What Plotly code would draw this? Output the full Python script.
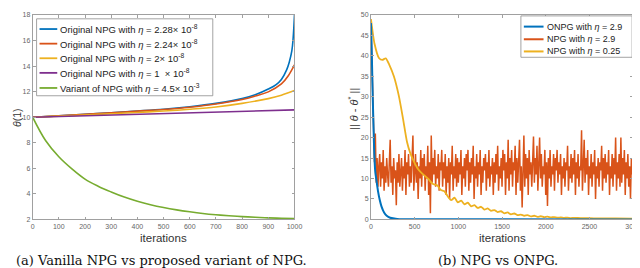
import plotly.graph_objects as go

# ---------- left panel data ----------
blue_x = [0, 100, 200, 300, 400, 500, 600, 700, 800, 850, 900, 930, 950, 970, 980, 990, 995, 1000]
blue_y = [10, 10.1, 10.22, 10.35, 10.48, 10.62, 10.82, 11.08, 11.45, 11.75, 12.2, 12.55, 12.95, 13.7, 14.3, 15.2, 16.2, 18.0]
red_x = [0, 100, 200, 300, 400, 500, 600, 700, 800, 850, 900, 950, 975, 1000]
red_y = [10, 10.1, 10.22, 10.34, 10.47, 10.6, 10.78, 11.03, 11.38, 11.65, 11.98, 12.6, 13.2, 14.1]
yel_x = [0, 100, 200, 300, 400, 500, 600, 700, 800, 900, 950, 1000]
yel_y = [10, 10.08, 10.17, 10.27, 10.37, 10.48, 10.62, 10.8, 11.08, 11.45, 11.72, 12.08]
pur_x = [0, 500, 1000]
pur_y = [10, 10.28, 10.57]
grn_x = [0, 50, 100, 150, 200, 250, 300, 350, 400, 450, 500, 550, 600, 650, 700, 750, 800, 850, 900, 950, 1000]
grn_y = [10, 8.15, 6.9, 5.95, 5.15, 4.6, 4.15, 3.75, 3.42, 3.15, 2.93, 2.75, 2.6, 2.47, 2.37, 2.29, 2.22, 2.17, 2.12, 2.09, 2.06]

left_names = [
    "Original NPG with <i>η</i> = 2.28× 10<sup>-8</sup>",
    "Original NPG with <i>η</i> = 2.24× 10<sup>-8</sup>",
    "Original NPG with <i>η</i> = 2× 10<sup>-8</sup>",
    "Original NPG with <i>η</i> = 1  × 10<sup>-8</sup>",
    "Variant of NPG with <i>η</i> = 4.5× 10<sup>-3</sup>",
]

# ---------- right panel data ----------
onpg_x = [0, 10, 20, 30, 40, 50, 60, 80, 100, 120, 150, 180, 220, 300, 400, 3000]
onpg_y = [48, 40, 30, 22, 15, 11.5, 10, 7, 4.8, 3.2, 1.7, 0.9, 0.4, 0.1, 0.03, 0.0]

npg_step = 10
npg_y = [
    48, 38, 28, 20, 14, 21, 9, 15, 8, 13,
    16, 8, 14, 10, 17, 7, 13, 9, 15, 11,
    8, 14, 19.5, 9, 13, 6, 15, 10, 12, 3.5,
    14, 9, 16, 8, 12, 15, 7, 13, 10, 17,
    6, 14, 11, 16, 8, 13, 9, 15, 20.5, 7,
    12, 16, 9, 14, 5, 13, 10, 17, 8, 15,
    11, 16, 7, 13, 10, 18, 6, 14, 1.5, 20.5,
    9, 15, 11, 17, 8, 13, 10, 16, 7, 14,
    12, 17, 8, 14, 10, 16, 6, 13, 9, 15,
    5, 14, 11, 18, 7, 13, 10, 16, 8, 15,
    9, 14, 11, 17, 6, 13, 10, 15, 8, 16,
    12, 17, 7, 14, 9, 15, 11, 18, 5, 13,
    10, 16, 8, 14, 11, 17, 6, 13, 9, 15,
    12, 16, 7, 14, 10, 17, 8, 13, 11, 15,
    6, 14, 9, 16, 11, 18, 7, 13, 10, 15,
    8, 17, 12, 16, 6, 14, 10, 19.5, 7, 15,
    11, 17, 8, 14, 12, 18, 6, 15, 9, 16,
    19.5, 7, 13, 2.9, 14, 20.5, 8, 16, 10, 15,
    6, 17, 11, 14, 8, 16, 20.3, 9, 15, 11,
    18, 7, 14, 20, 10, 16, 8, 13, 11, 17,
    6, 14, 3.3, 15, 10, 17, 8, 13, 11, 16,
    7, 15, 12, 17, 9, 14, 11, 16, 6, 13,
    10, 15, 8, 14, 12, 18, 7, 13, 10, 16,
    9, 15, 11, 17, 6, 14, 10, 16, 8, 13,
    12, 21.8, 7, 14, 19.5, 9, 15, 11, 17, 6,
    13, 10, 16, 8, 14, 11, 17, 5, 13, 10,
    15, 8, 14, 12, 18, 7, 15, 10, 16, 9,
    14, 11, 17, 6, 13, 10, 16, 8, 15, 11,
    20, 7, 14, 10, 16, 8, 20, 9, 15, 11,
    17, 6, 14, 10, 16, 8, 13, 5, 15, 11,
    16,
]
npg_x = [i * npg_step for i in range(len(npg_y))]

npg2_x = [0, 40, 93, 130, 169, 210, 262, 319, 367, 412, 450, 488, 530, 581, 620, 656, 700, 730, 760, 800, 840,
          880, 918, 956, 994, 1032, 1070, 1108, 1146, 1184, 1222, 1260, 1298, 1336, 1374, 1412, 1450,
          1488, 1526, 1564, 1602, 1640, 1678, 1716, 1754, 1792, 1830, 1868, 1906, 1944, 1982, 2020,
          2058, 2096, 2134, 2172, 2210, 2248, 2286, 2324, 2400, 2500, 2600, 2800, 3000]
npg2_y = [49, 43, 39.4, 39.0, 39.4, 37.8, 35, 30.2, 24.6, 19, 16.2, 14.3, 12.6, 11.3, 10.6, 9.9, 8.8, 8.5, 8.3, 7.2, 6.9,
          5.6, 4.7, 5.3, 4.2, 4.6, 3.7, 4.1, 3.2, 3.5, 2.8, 3.1, 2.4, 2.7, 2.1, 2.3, 1.8,
          2.0, 1.5, 1.7, 1.25, 1.45, 1.05, 1.2, 0.9, 1.05, 0.75, 0.9, 0.65, 0.78, 0.55, 0.68,
          0.48, 0.58, 0.42, 0.5, 0.38, 0.45, 0.34, 0.4, 0.32, 0.3, 0.27, 0.24, 0.22]

right_names = ["ONPG with <i>η</i> = 2.9", "NPG with <i>η</i> = 2.9", "NPG with <i>η</i> = 0.25"]

C = ["#0072BD", "#D95319", "#EDB120", "#7E2F8E", "#77AC30"]
SANS = "Liberation Sans"
W, H = 640, 268


def px(x):
    return x / W


def py(y):
    return (H - y) / H


fig = go.Figure()
lw = 1.6
left_series = [(blue_x, blue_y, "spline"), (red_x, red_y, "spline"), (yel_x, yel_y, "spline"),
               (pur_x, pur_y, "linear"), (grn_x, grn_y, "spline")]
for i, (xs, ys, shp) in enumerate(left_series):
    fig.add_trace(go.Scatter(x=xs, y=ys, mode="lines", line=dict(color=C[i], width=lw, shape=shp),
                             name=left_names[i], showlegend=False))

fig.add_trace(go.Scatter(x=npg_x, y=npg_y, mode="lines", line=dict(color=C[1], width=1.5),
                         name=right_names[1], xaxis="x2", yaxis="y2", showlegend=False))
fig.add_trace(go.Scatter(x=npg2_x, y=npg2_y, mode="lines", line=dict(color=C[2], width=1.8, shape="spline", smoothing=0.6),
                         name=right_names[2], xaxis="x2", yaxis="y2", showlegend=False))
fig.add_trace(go.Scatter(x=onpg_x, y=onpg_y, mode="lines", line=dict(color=C[0], width=2, shape="spline"),
                         name=right_names[0], xaxis="x2", yaxis="y2", showlegend=False))

ax_common = dict(showgrid=False, zeroline=False, showline=True, linecolor="#a0a0a0", linewidth=0.8,
                 mirror="ticks", ticks="inside", ticklen=3, tickcolor="#a0a0a0",
                 ticklabeloverflow="allow",
                 tickfont=dict(family=SANS, size=7, color="#666666"))

fig.update_layout(
    width=W, height=H, margin=dict(l=0, r=0, t=0, b=0),
    paper_bgcolor="white", plot_bgcolor="white", showlegend=False,
    xaxis=dict(domain=[px(23), px(289)], range=[0, 1000], dtick=100, **ax_common),
    yaxis=dict(domain=[py(213), py(3)], range=[2, 18], dtick=2, **ax_common),
    xaxis2=dict(domain=[px(366.7), px(633)], range=[0, 3000], dtick=500, anchor="y2", **ax_common),
    yaxis2=dict(domain=[py(213), py(3)], range=[0, 50], dtick=5, anchor="x2", **ax_common),
)


# ---------- legend boxes (drawn as shapes + text) ----------
def legend_box(x0, y0, x1, y1, rows, names, colors, lx0, lx1, tx, fsize, lwid):
    fig.add_shape(type="rect", xref="paper", yref="paper", x0=px(x0), x1=px(x1), y0=py(y1), y1=py(y0),
                  line=dict(color="#8c8c8c", width=0.8), fillcolor="white", layer="above")
    for r, nm, col in zip(rows, names, colors):
        fig.add_shape(type="line", xref="paper", yref="paper", x0=px(lx0), x1=px(lx1), y0=py(r), y1=py(r),
                      line=dict(color=col, width=lwid), layer="above")
        fig.add_annotation(text=nm, xref="paper", yref="paper", x=px(tx), y=py(r), xanchor="left",
                           yanchor="middle", showarrow=False,
                           font=dict(family=SANS, size=fsize, color="#222222"))


legend_box(27, 7, 206, 86, [17.5, 32.5, 47.5, 62.5, 78], left_names, C, 30, 48, 49, 9.5, 1.8)
legend_box(519, 4, 632, 46.5, [15, 28, 40.5], right_names, [C[0], C[1], C[2]], 522, 542, 543, 9, 2)

ann = [
    dict(text="iterations", x=px(156), y=py(232), font=dict(family=SANS, size=11.5, color="#333")),
    dict(text="iterations", x=px(500), y=py(232), font=dict(family=SANS, size=11.5, color="#333")),
    dict(text="<i>θ</i>(1)", x=px(7), y=py(108), textangle=-90,
         font=dict(family=SANS, size=10.5, color="#333")),
    dict(text="|| <i>θ</i> - <i>θ</i><sup>*</sup> ||", x=px(349), y=py(100), textangle=-90,
         font=dict(family=SANS, size=11, color="#333")),
    dict(text="(a) Vanilla NPG vs proposed variant of NPG.", x=px(154), y=py(255),
         font=dict(family="DejaVu Serif", size=13, color="#111")),
    dict(text="(b) NPG vs ONPG.", x=px(496), y=py(255),
         font=dict(family="DejaVu Serif", size=13, color="#111")),
]
for a in ann:
    a.update(xref="paper", yref="paper", showarrow=False, xanchor="center", yanchor="middle")
    fig.add_annotation(**a)

fig.write_html("out.html")
